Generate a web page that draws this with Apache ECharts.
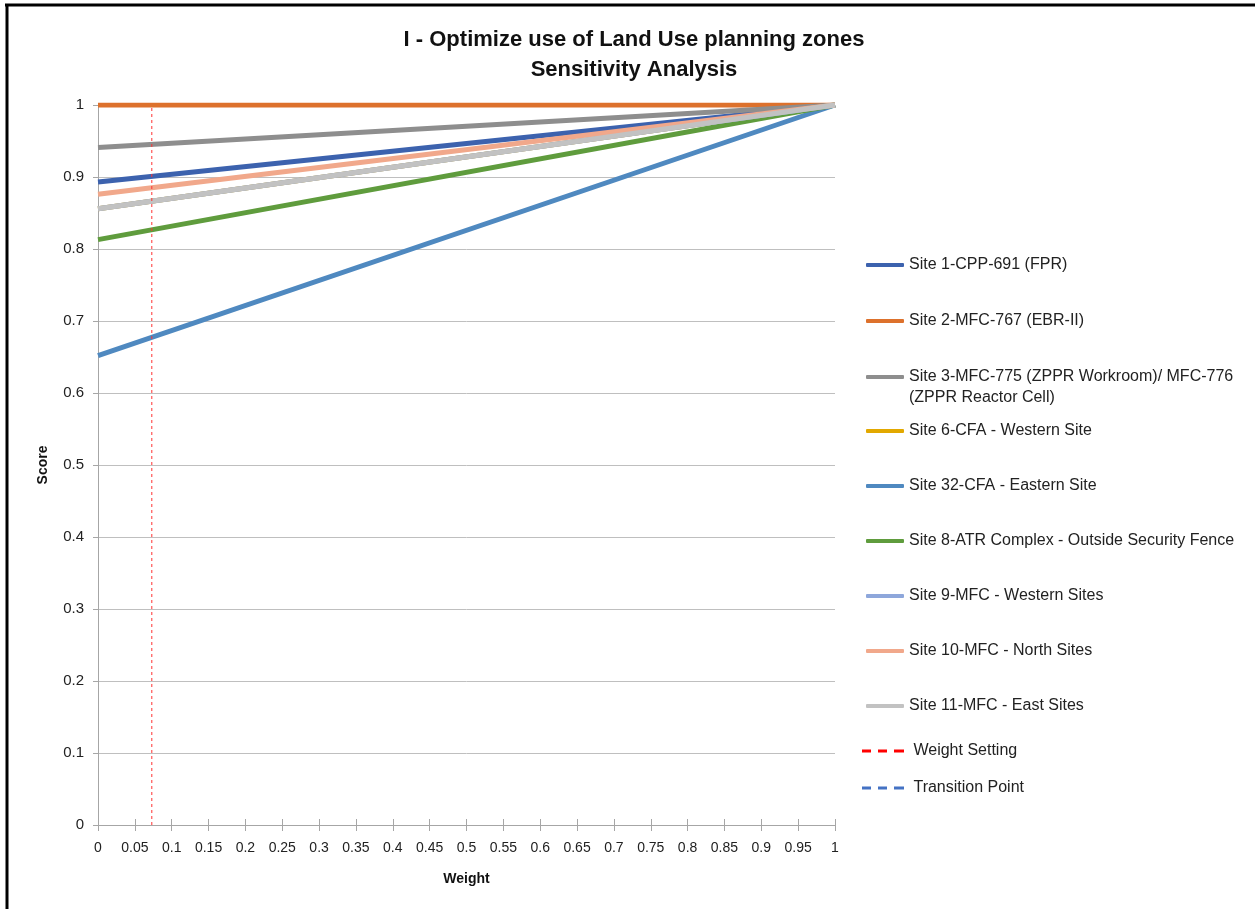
<!DOCTYPE html>
<html>
<head>
<meta charset="utf-8">
<script src="https://cdn.jsdelivr.net/npm/echarts@6/dist/echarts.min.js"></script>
<style>
  html, body { margin: 0; padding: 0; background: #fff; }
  #main { width: 1255px; height: 909px; }
</style>
</head>
<body>
<div id="main"></div>
<script>
// weights (x) where each line is read: start and end
var weights = [0, 1];

// site scores at weight 0 and weight 1
var site1 = [0.893, 1];
var site2 = [1, 1];
var site3 = [0.941, 1];
var site6 = [0.856, 1];   // hidden behind later lines
var site32 = [0.652, 1];
var site8 = [0.813, 1];
var site9 = [0.856, 1];   // hidden behind later lines
var site10 = [0.876, 1];
var site11 = [0.856, 1];

var weightSetting = 0.073;

var names = [
  "Site 1-CPP-691 (FPR)",
  "Site 2-MFC-767 (EBR-II)",
  "Site 3-MFC-775 (ZPPR Workroom)/ MFC-776 (ZPPR Reactor Cell)",
  "Site 6-CFA - Western Site",
  "Site 32-CFA - Eastern Site",
  "Site 8-ATR Complex - Outside Security Fence",
  "Site 9-MFC - Western Sites",
  "Site 10-MFC - North Sites",
  "Site 11-MFC - East Sites"
];
var colors = ["#3C62AE", "#DD712C", "#8E8E8E", "#E2A800", "#4F89C0", "#5F9C3D", "#8EA7DB", "#F1A88B", "#C2C2C2"];
var values = [site1, site2, site3, site6, site32, site8, site9, site10, site11];

var font = "Liberation Sans";

var myChart = echarts.init(document.getElementById("main"));

function toPoints(arr) {
  return weights.map(function (w, i) { return [w, arr[i]]; });
}

var series = [];
for (var i = 0; i < names.length; i++) {
  series.push({
    name: names[i],
    type: "line",
    symbol: "none",
    data: toPoints(values[i]),
    color: colors[i],
    lineStyle: { width: 5, color: colors[i] },
    z: 2 + i
  });
}
series.push({
  name: "Weight Setting",
  type: "line",
  symbol: "none",
  color: "#FF0000",
  data: [[weightSetting, 0], [weightSetting, 1]],
  lineStyle: { width: 1, color: "#FF3333", type: [3, 3] },
  z: 20
});
series.push({
  name: "Transition Point",
  type: "line",
  symbol: "none",
  color: "#4472C4",
  data: [],
  lineStyle: { width: 1, color: "#4472C4", type: [3, 3] }
});

// legend rows (centre y of each item's first line)
var legendY = [265, 321, 377, 431, 486, 541, 596, 651, 706, 751, 788];
var legendNames = names.concat(["Weight Setting", "Transition Point"]);
var dashIcon = "path://M0,0h9v3h-9z M16,0h9v3h-9z M32,0h10v3h-10z";
var legends = legendNames.map(function (n, k) {
  var dashed = k >= names.length;
  var isSite3 = n.indexOf("Site 3-") === 0;
  return {
    data: [n],
    left: dashed ? 862 : 866,
    top: legendY[k] - (isSite3 ? 31.5 : 10.5),
    orient: "vertical",
    padding: 0,
    icon: dashed ? dashIcon : "roundRect",
    itemWidth: dashed ? 42 : 38,
    itemHeight: dashed ? 3 : 4,
    itemGap: 0,
    selectedMode: false,
    formatter: function (name) {
      if (name.indexOf("Site 3-") === 0) {
        // blank first line keeps the icon level with the first text line
        return " \nSite 3-MFC-775 (ZPPR Workroom)/ MFC-776\n(ZPPR Reactor Cell)";
      }
      return (dashed ? " " : "") + name;
    },
    textStyle: { fontFamily: font, fontSize: 16, color: "#222", lineHeight: 21 }
  };
});

var option = {
  animation: false,
  backgroundColor: "#fff",
  title: {
    text: "I - Optimize use of Land Use planning zones\nSensitivity Analysis",
    left: 629,
    top: 20,
    textAlign: "center",
    textStyle: { fontFamily: font, fontSize: 22, fontWeight: "bold", color: "#111", lineHeight: 30 }
  },
  legend: legends,
  grid: { left: 98, right: 420, top: 105, bottom: 84 },
  xAxis: [
    {
      type: "value",
      min: 0,
      max: 1,
      interval: 0.05,
      name: "Weight",
      nameLocation: "middle",
      nameGap: 47,
      nameTextStyle: { fontFamily: font, fontSize: 14, fontWeight: "bold", color: "#111" },
      axisLine: { lineStyle: { color: "#A6A6A6", width: 1 } },
      axisTick: { length: 6, lineStyle: { color: "#A6A6A6" } },
      axisLabel: {
        fontFamily: font, fontSize: 14, color: "#222", margin: 16,
        formatter: function (v) { return String(+v.toFixed(2)); }
      },
      splitLine: { show: false }
    },
    {
      type: "value",
      position: "bottom",
      min: 0,
      max: 1,
      interval: 0.05,
      axisLine: { show: false },
      axisTick: { inside: true, length: 6, lineStyle: { color: "#A6A6A6" } },
      axisLabel: { show: false },
      splitLine: { show: false }
    }
  ],
  yAxis: {
    type: "value",
    min: 0,
    max: 1,
    interval: 0.1,
    name: "Score",
    nameLocation: "middle",
    nameGap: 48,
    nameTextStyle: { fontFamily: font, fontSize: 14, fontWeight: "bold", color: "#111" },
    axisLine: { show: true, lineStyle: { color: "#A6A6A6" } },
    axisTick: { show: true, length: 5, lineStyle: { color: "#A6A6A6" } },
    axisLabel: {
      fontFamily: font, fontSize: 15, color: "#222", margin: 14,
      formatter: function (v) { return String(+v.toFixed(1)); }
    },
    splitLine: { lineStyle: { color: "#BFBFBF", width: 1 } }
  },
  graphic: [
    { type: "line", shape: { x1: 5, y1: 5, x2: 1255, y2: 5 }, style: { stroke: "#000", lineWidth: 3 } },
    { type: "line", shape: { x1: 7, y1: 4, x2: 7, y2: 909 }, style: { stroke: "#000", lineWidth: 3 } }
  ],
  series: series
};

myChart.setOption(option);
window.addEventListener("resize", function () {
  myChart.resize();
});
</script>
</body>
</html>
